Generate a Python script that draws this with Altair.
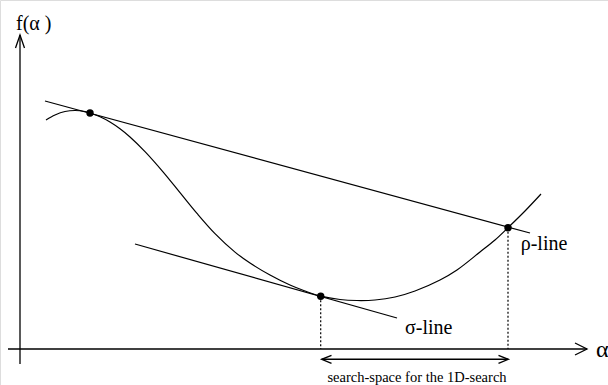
import altair as alt
import pandas as pd

# Diagram coordinates: alpha to the right, f upwards, origin where the axes cross.
A_MIN, A_MAX = -20, 588
F_MIN, F_MAX = -36, 349

# f(alpha): the function being minimised along the search direction
curve_a = [26, 35, 45, 55, 65, 70, 80, 90, 100, 110, 125, 143, 160, 177, 195, 215, 230,
           250, 270, 285, 300.7, 320, 337, 355, 375, 395, 420, 437, 460, 475, 488, 505, 521]
curve_f = [229, 234, 237.5, 238.5, 237.5, 236, 232.2, 227, 220.2, 212, 197.4, 177.2, 156.4, 135.6,
           115.4, 96.9, 86, 74, 64, 58, 52.8, 49.5, 48.5, 49, 52, 58, 69, 79, 97, 109, 121.3, 138, 155]

# Marked points: start point, sigma point, rho point
pt_name = ["start", "sigma", "rho"]
pt_a = [70, 300.7, 488]
pt_f = [236, 52.8, 121.3]

# Straight lines (two end points each)
rho_a = [25, 510]
rho_f = [248, 116]
sigma_a = [115, 377]
sigma_f = [105, 31]

# Axes and their arrow heads
yaxis_a, yaxis_f = [0, 0], [-15, 314]
xaxis_a, xaxis_f = [-12, 567], [0, 0]
yhead_a, yhead_f = [-4.5, 0, 4.5], [301, 314, 301]
xhead_a, xhead_f = [555, 567, 555], [6, 0, -6]

# Search interval arrow between the sigma and rho points
span_f = -10.3
span_a = [301.7, 488.3]
lhead_a, lhead_f = [311.5, 301.7, 311.5], [-6.3, -10.3, -14.3]
rhead_a, rhead_f = [478.5, 488.3, 478.5], [-6.3, -10.3, -14.3]

# Text labels
lbl_text = ["f(\u03b1 )", "\u03c3-line", "\u03c1-line", "\u03b1"]
lbl_a = [-4, 385, 500.7, 576]
lbl_f = [319, 15, 99, -8]
lbl_size = [20, 20, 20, 24]
note_text = "search-space for the 1D-search"
note_a, note_f = 397, -32.5

xs = alt.Scale(domain=[A_MIN, A_MAX], nice=False, zero=False)
ys = alt.Scale(domain=[F_MIN, F_MAX], nice=False, zero=False)


def X(field="a"):
    return alt.X(f"{field}:Q", scale=xs, axis=None)


def Y(field="f"):
    return alt.Y(f"{field}:Q", scale=ys, axis=None)


def polyline(name_vals):
    rows = []
    for name, aa, ff in name_vals:
        for i, (a, f) in enumerate(zip(aa, ff)):
            rows.append({"name": name, "a": a, "f": f, "i": i})
    return pd.DataFrame(rows)


axes_df = polyline([("yaxis", yaxis_a, yaxis_f), ("xaxis", xaxis_a, xaxis_f),
                    ("yhead", yhead_a, yhead_f), ("xhead", xhead_a, xhead_f)])
axes = alt.Chart(axes_df).mark_line(color="black", strokeWidth=1.3).encode(
    x=X(), y=Y(), detail="name:N", order="i:Q")

lines_df = polyline([("rho", rho_a, rho_f), ("sigma", sigma_a, sigma_f)])
lines = alt.Chart(lines_df).mark_line(color="black", strokeWidth=1.2).encode(
    x=X(), y=Y(), detail="name:N", order="i:Q")

curve_df = pd.DataFrame({"a": curve_a, "f": curve_f, "i": range(len(curve_a))})
curve = alt.Chart(curve_df).mark_line(color="black", strokeWidth=1.2, interpolate="catmull-rom").encode(
    x=X(), y=Y(), order="i:Q")

pts_df = pd.DataFrame({"name": pt_name, "a": pt_a, "f": pt_f})
drops = alt.Chart(pts_df[pts_df["name"] != "start"]).mark_rule(
    color="black", strokeWidth=1.2, strokeDash=[2, 2]).encode(
    x=X(), y=Y(), y2=alt.datum(0))
points = alt.Chart(pts_df).mark_point(filled=True, color="black", opacity=1, size=55).encode(
    x=X(), y=Y())

span_df = polyline([("span", span_a, [span_f, span_f]),
                    ("lhead", lhead_a, lhead_f), ("rhead", rhead_a, rhead_f)])
span = alt.Chart(span_df).mark_line(color="black", strokeWidth=1.4).encode(
    x=X(), y=Y(), detail="name:N", order="i:Q")

lbl_df = pd.DataFrame({"text": lbl_text, "a": lbl_a, "f": lbl_f, "size": lbl_size})
labels = alt.Chart(lbl_df).mark_text(
    align="left", baseline="alphabetic", font="Liberation Serif", color="black").encode(
    x=X(), y=Y(), text="text:N", size=alt.Size("size:Q", scale=None, legend=None))

note = alt.Chart(pd.DataFrame({"text": [note_text], "a": [note_a], "f": [note_f]})).mark_text(
    align="center", baseline="alphabetic", font="Liberation Serif", fontSize=14.5, color="black").encode(
    x=X(), y=Y(), text="text:N")

chart = alt.layer(axes, lines, curve, drops, points, span, labels, note).properties(
    width=608, height=385, padding=0, autosize=alt.AutoSizeParams(type="none")
).configure_view(stroke=None).configure(background="white")

chart.save("out.html", embed_options={"renderer": "svg", "actions": False})
